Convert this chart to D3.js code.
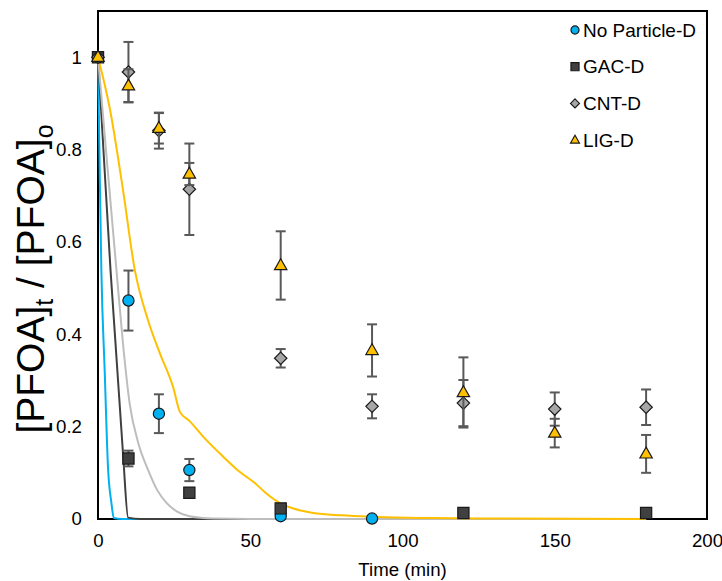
<!DOCTYPE html>
<html>
<head>
<meta charset="utf-8">
<script src="https://cdn.jsdelivr.net/npm/d3@7"></script>
<style>
  html, body { margin: 0; padding: 0; background: #fff; }
  svg text { font-family: "Liberation Sans", Arial, sans-serif; fill: #000; }
</style>
</head>
<body>
<svg id="chart" width="722" height="581"></svg>
<script>
// ---- data ----
const seriesNames = ["No Particle-D", "GAC-D", "CNT-D", "LIG-D"];

// measured points: [time (min), C/C0, error]
const noParticlePts = [[0, 1, 0], [10, 0.473, 0.065], [20, 0.228, 0.042], [30, 0.106, 0.024], [60, 0.006, 0], [90, 0.001, 0]];
const gacPts = [[0, 1, 0], [10, 0.131, 0.017], [30, 0.057, 0], [60, 0.023, 0], [120, 0.013, 0], [180, 0.013, 0]];
const cntPts = [[0, 1, 0], [10, 0.968, 0.065], [20, 0.841, 0.039], [30, 0.714, 0.099], [60, 0.348, 0.02], [90, 0.244, 0.026], [120, 0.251, 0.05], [150, 0.238, 0.036], [180, 0.242, 0.0385]];
const ligPts = [[0, 1, 0], [10, 0.938, 0.036], [20, 0.846, 0.033], [30, 0.747, 0.024], [60, 0.549, 0.074], [90, 0.365, 0.0565], [120, 0.274, 0.076], [150, 0.186, 0.031], [180, 0.141, 0.041]];

// model curves: [time (min), C/C0]
const noParticleFit = [[0, 1], [0.5, 0.78], [1.1, 0.54], [2.2, 0.32], [3.3, 0.11], [4.4, 0.035], [5.2, 0.002], [8, 0], [180, 0]];
const gacFit = [[0, 1], [4.1, 0.54], [8.2, 0.143], [9.9, 0.003], [14, 0], [180, 0]];
const cntFit = [[0, 1], [3, 0.77], [6.05, 0.54], [8.2, 0.38], [10.4, 0.25], [13.2, 0.165], [16.4, 0.107], [19.5, 0.062], [22.5, 0.035], [26, 0.016], [30.1, 0.006], [38, 0.001], [50, 0], [180, 0]];
const ligFit = [[0, 1], [3.85, 0.89], [8.2, 0.713], [12.1, 0.539], [16.4, 0.431], [20.3, 0.359], [24.7, 0.285], [26.9, 0.232], [30.1, 0.212], [35, 0.175], [41.1, 0.135], [46, 0.105], [51.5, 0.078], [55, 0.057], [59.7, 0.035], [65, 0.021], [70.7, 0.013], [80, 0.008], [89.4, 0.005], [110, 0.002], [130, 0.001], [180, 0]];

const xTicks = [0, 50, 100, 150, 200];
const yTicks = [0, 0.2, 0.4, 0.6, 0.8, 1];

// ---- layout ----
const svg = d3.select("#chart");
const plotL = 98, plotR = 707, plotT = 11, plotB = 519;
const x = d3.scaleLinear().domain([0, 200]).range([plotL, plotR]);
const y = d3.scaleLinear().domain([0, 1.1]).range([plotB, plotT]);

const series = [
  { name: seriesNames[0], pts: noParticlePts, fit: noParticleFit, line: "#00B0F0", fill: "#00B0F0", shape: "circle" },
  { name: seriesNames[1], pts: gacPts, fit: gacFit, line: "#404040", fill: "#404040", shape: "square" },
  { name: seriesNames[2], pts: cntPts, fit: cntFit, line: "#BDBDBD", fill: "#A6A6A6", shape: "diamond" },
  { name: seriesNames[3], pts: ligPts, fit: ligFit, line: "#FFC000", fill: "#FFC000", shape: "triangle" }
];

// frame
svg.append("rect")
  .attr("x", plotL).attr("y", plotT)
  .attr("width", plotR - plotL).attr("height", plotB - plotT)
  .attr("fill", "none").attr("stroke", "#000").attr("stroke-width", 2);

// axes (labels only, no tick marks)
const xAxis = svg.append("g").attr("transform", `translate(0,${plotB})`)
  .call(d3.axisBottom(x).tickValues(xTicks).tickSize(0).tickPadding(15).tickFormat(d3.format("d")));
xAxis.select(".domain").remove();
xAxis.selectAll("text").attr("font-size", 18.67).attr("font-family", "Liberation Sans, Arial, sans-serif").attr("fill", "#000");

const yAxis = svg.append("g").attr("transform", `translate(${plotL},0)`)
  .call(d3.axisLeft(y).tickValues(yTicks).tickSize(0).tickPadding(16).tickFormat(d => String(d)));
yAxis.select(".domain").remove();
yAxis.selectAll("text").attr("font-size", 18.67).attr("font-family", "Liberation Sans, Arial, sans-serif").attr("fill", "#000");

// axis titles
svg.append("text")
  .attr("x", (plotL + plotR) / 2).attr("y", 576)
  .attr("text-anchor", "middle").attr("font-size", 18.67)
  .text("Time (min)");

const yTitle = svg.append("text")
  .attr("transform", "translate(44,279) rotate(-90)")
  .attr("text-anchor", "middle").attr("font-size", 39);
yTitle.append("tspan").text("[PFOA]");
yTitle.append("tspan").attr("font-size", 25).attr("dy", 9).text("t");
yTitle.append("tspan").attr("dy", -9).text(" / [PFOA]");
yTitle.append("tspan").attr("font-size", 25).attr("dy", 9).text("o");

// model curves
const line = d3.line().x(d => x(d[0])).y(d => y(d[1])).curve(d3.curveMonotoneX);
series.forEach(s => {
  svg.append("path").datum(s.fit)
    .attr("d", line).attr("fill", "none")
    .attr("stroke", s.line).attr("stroke-width", 2);
});

// marker shapes (r = half width)
function shapePath(shape, r) {
  if (shape === "circle") return d3.symbol().type(d3.symbolCircle).size(Math.PI * r * r)();
  if (shape === "square") return `M${-r},${-r}H${r}V${r}H${-r}Z`;
  if (shape === "diamond") return `M0,${-r}L${r},0L0,${r}L${-r},0Z`;
  const h = r * 1.75;
  return `M0,${-h * 0.62}L${r},${h * 0.38}L${-r},${h * 0.38}Z`;
}
const markerR = { circle: 5.6, square: 5.6, diamond: 6.2, triangle: 6.2 };
function marker(g, s, scale) {
  return g.append("path")
    .attr("d", shapePath(s.shape, markerR[s.shape] * scale))
    .attr("fill", s.fill).attr("stroke", "#1a1a1a").attr("stroke-width", 1.2);
}

// error bars + markers
series.forEach(s => {
  const g = svg.append("g");
  s.pts.filter(p => p[2] > 0).forEach(p => {
    const cx = x(p[0]), y1 = y(p[1] + p[2]), y2 = y(p[1] - p[2]);
    g.append("line").attr("x1", cx).attr("x2", cx).attr("y1", y1).attr("y2", y2)
      .attr("stroke", "#595959").attr("stroke-width", 2);
    [y1, y2].forEach(yy => g.append("line")
      .attr("x1", cx - 5).attr("x2", cx + 5).attr("y1", yy).attr("y2", yy)
      .attr("stroke", "#595959").attr("stroke-width", 2));
  });
  s.pts.forEach(p => {
    marker(g, s, 1).attr("transform", `translate(${x(p[0])},${y(p[1])})`);
  });
});

// legend
const legend = svg.append("g");
series.forEach((s, i) => {
  const ly = 30 + i * 36.7;
  marker(legend, s, 0.72).attr("transform", `translate(575,${ly})`);
  legend.append("text").attr("x", 583).attr("y", ly)
    .attr("dominant-baseline", "central").attr("font-size", 19)
    .text(s.name);
});
</script>
</body>
</html>
